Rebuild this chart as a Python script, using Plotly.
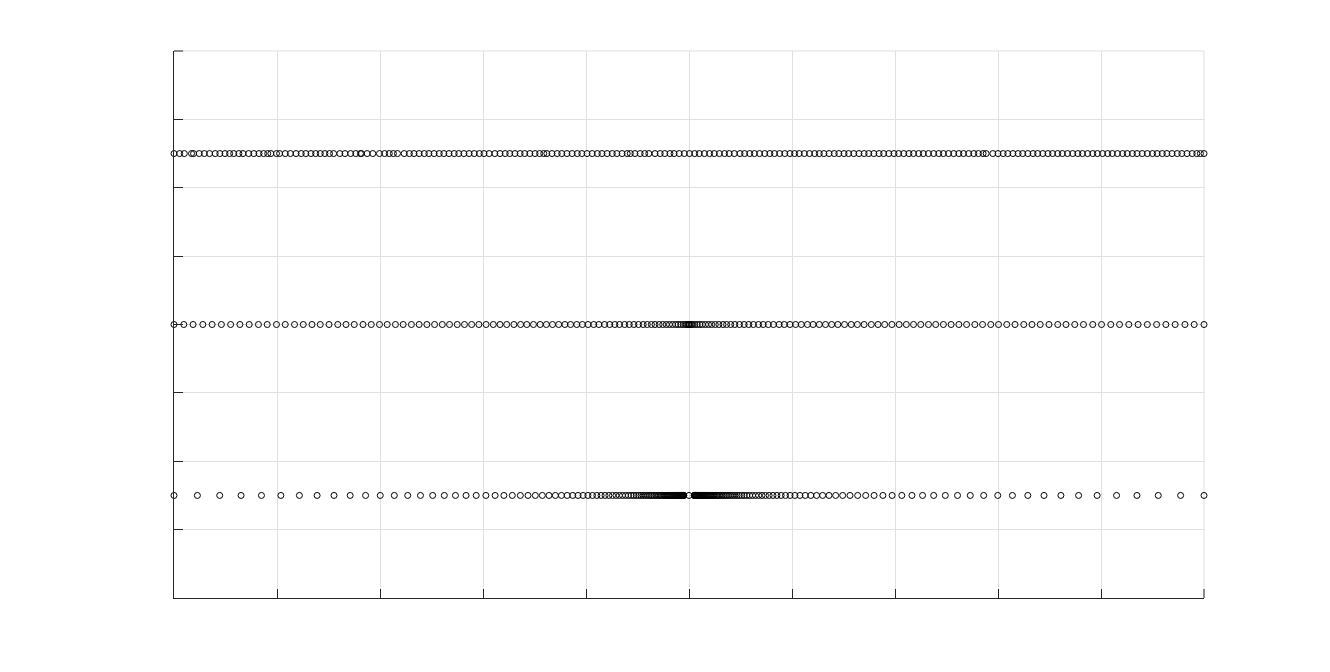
import plotly.graph_objects as go

# row positions on the y axis
row_levels = [3, 2, 1]

# grid / tick positions (no labels shown)
x_ticks = [-1.0, -0.8, -0.6, -0.4, -0.2, 0.0, 0.2, 0.4, 0.6, 0.8, 1.0]
y_ticks = [0.4, 0.8, 1.2, 1.6, 2.0, 2.4, 2.8, 3.2, 3.6]

# top row: scattered samples, roughly even over the interval
x_top = [
    -1.000, -0.989, -0.980, -0.966, -0.962, -0.951, -0.941, -0.931, -0.920, -0.911,
    -0.901, -0.892, -0.884, -0.874, -0.866, -0.855, -0.845, -0.835, -0.826, -0.818,
    -0.812, -0.801, -0.795, -0.784, -0.774, -0.763, -0.753, -0.744, -0.734, -0.725,
    -0.716, -0.707, -0.698, -0.690, -0.678, -0.668, -0.657, -0.647, -0.638, -0.636,
    -0.625, -0.614, -0.601, -0.591, -0.582, -0.574, -0.566, -0.553, -0.543, -0.534,
    -0.524, -0.514, -0.505, -0.495, -0.485, -0.476, -0.466, -0.456, -0.447, -0.437,
    -0.427, -0.417, -0.407, -0.398, -0.388, -0.377, -0.367, -0.357, -0.348, -0.338,
    -0.328, -0.319, -0.309, -0.299, -0.290, -0.282, -0.276, -0.266, -0.256, -0.247,
    -0.237, -0.227, -0.217, -0.208, -0.198, -0.188, -0.178, -0.169, -0.159, -0.149,
    -0.140, -0.130, -0.120, -0.114, -0.105, -0.095, -0.086, -0.078, -0.066, -0.056,
    -0.047, -0.037, -0.029, -0.019, -0.009, 0.001, 0.011, 0.020, 0.030, 0.040,
    0.049, 0.059, 0.069, 0.078, 0.088, 0.099, 0.108, 0.118, 0.127, 0.137,
    0.147, 0.157, 0.166, 0.176, 0.186, 0.196, 0.205, 0.214, 0.224, 0.234,
    0.244, 0.253, 0.262, 0.272, 0.282, 0.291, 0.301, 0.310, 0.320, 0.330,
    0.340, 0.349, 0.359, 0.369, 0.378, 0.388, 0.398, 0.407, 0.417, 0.427,
    0.436, 0.446, 0.455, 0.465, 0.475, 0.485, 0.494, 0.504, 0.514, 0.524,
    0.533, 0.543, 0.553, 0.562, 0.571, 0.577, 0.590, 0.600, 0.610, 0.619,
    0.629, 0.639, 0.648, 0.658, 0.668, 0.677, 0.687, 0.697, 0.706, 0.716,
    0.725, 0.735, 0.745, 0.755, 0.764, 0.774, 0.784, 0.793, 0.803, 0.813,
    0.822, 0.832, 0.842, 0.851, 0.861, 0.870, 0.880, 0.890, 0.900, 0.909,
    0.919, 0.928, 0.938, 0.948, 0.957, 0.967, 0.977, 0.986, 0.993, 1.000,
]

# middle row: gradually tighter toward the centre
x_mid = [
    -1.000, -0.981, -0.963, -0.944, -0.926, -0.908, -0.890, -0.872, -0.854, -0.836,
    -0.819, -0.801, -0.784, -0.766, -0.749, -0.732, -0.716, -0.699, -0.682, -0.666,
    -0.650, -0.633, -0.617, -0.601, -0.586, -0.570, -0.555, -0.539, -0.524, -0.509,
    -0.494, -0.479, -0.465, -0.450, -0.436, -0.422, -0.408, -0.394, -0.380, -0.367,
    -0.354, -0.340, -0.327, -0.315, -0.302, -0.289, -0.277, -0.265, -0.253, -0.241,
    -0.230, -0.218, -0.207, -0.196, -0.185, -0.175, -0.164, -0.154, -0.144, -0.135,
    -0.125, -0.116, -0.107, -0.098, -0.089, -0.081, -0.073, -0.066, -0.058, -0.051,
    -0.044, -0.038, -0.032, -0.026, -0.021, -0.016, -0.011, -0.007, -0.004, -0.001,
    0.000,
    0.001, 0.004, 0.007, 0.011, 0.016, 0.021, 0.026, 0.032, 0.038, 0.044,
    0.051, 0.058, 0.066, 0.073, 0.081, 0.089, 0.098, 0.107, 0.116, 0.125,
    0.135, 0.144, 0.154, 0.164, 0.175, 0.185, 0.196, 0.207, 0.218, 0.230,
    0.241, 0.253, 0.265, 0.277, 0.289, 0.302, 0.315, 0.327, 0.340, 0.354,
    0.367, 0.380, 0.394, 0.408, 0.422, 0.436, 0.450, 0.465, 0.479, 0.494,
    0.509, 0.524, 0.539, 0.555, 0.570, 0.586, 0.601, 0.617, 0.633, 0.650,
    0.666, 0.682, 0.699, 0.716, 0.732, 0.749, 0.766, 0.784, 0.801, 0.819,
    0.836, 0.854, 0.872, 0.890, 0.908, 0.926, 0.944, 0.963, 0.981, 1.000,
]

# bottom row: sparse at the ends, packed tightly around zero
x_bot = [
    -1.0000, -0.9546, -0.9112, -0.8698, -0.8302, -0.7925, -0.7565, -0.7221, -0.6893, -0.6579,
    -0.6280, -0.5995, -0.5722, -0.5462, -0.5214, -0.4977, -0.4751, -0.4535, -0.4329, -0.4132,
    -0.3944, -0.3765, -0.3594, -0.3431, -0.3275, -0.3126, -0.2984, -0.2848, -0.2719, -0.2595,
    -0.2477, -0.2365, -0.2257, -0.2154, -0.2057, -0.1963, -0.1874, -0.1789, -0.1707, -0.1630,
    -0.1556, -0.1485, -0.1418, -0.1353, -0.1292, -0.1233, -0.1177, -0.1123, -0.1072, -0.1024,
    -0.0977, -0.0933, -0.0890, -0.0850, -0.0811, -0.0774, -0.0739, -0.0706, -0.0673, -0.0643,
    -0.0614, -0.0586, -0.0559, -0.0534, -0.0509, -0.0486, -0.0464, -0.0443, -0.0423, -0.0404,
    -0.0385, -0.0368, -0.0351, -0.0335, -0.0320, -0.0305, -0.0292, -0.0278, -0.0266, -0.0254,
    -0.0242, -0.0231, -0.0221, -0.0211, -0.0201, -0.0192, -0.0183, -0.0175, -0.0167, -0.0159,
    -0.0152, -0.0145, -0.0139, -0.0132, -0.0126, -0.0121, -0.0115, -0.0110, -0.0105, -0.0100,
    0.0000,
    0.0100, 0.0105, 0.0110, 0.0115, 0.0121, 0.0126, 0.0132, 0.0139, 0.0145, 0.0152,
    0.0159, 0.0167, 0.0175, 0.0183, 0.0192, 0.0201, 0.0211, 0.0221, 0.0231, 0.0242,
    0.0254, 0.0266, 0.0278, 0.0292, 0.0305, 0.0320, 0.0335, 0.0351, 0.0368, 0.0385,
    0.0404, 0.0423, 0.0443, 0.0464, 0.0486, 0.0509, 0.0534, 0.0559, 0.0586, 0.0614,
    0.0643, 0.0673, 0.0706, 0.0739, 0.0774, 0.0811, 0.0850, 0.0890, 0.0933, 0.0977,
    0.1024, 0.1072, 0.1123, 0.1177, 0.1233, 0.1292, 0.1353, 0.1418, 0.1485, 0.1556,
    0.1630, 0.1707, 0.1789, 0.1874, 0.1963, 0.2057, 0.2154, 0.2257, 0.2365, 0.2477,
    0.2595, 0.2719, 0.2848, 0.2984, 0.3126, 0.3275, 0.3431, 0.3594, 0.3765, 0.3944,
    0.4132, 0.4329, 0.4535, 0.4751, 0.4977, 0.5214, 0.5462, 0.5722, 0.5995, 0.6280,
    0.6579, 0.6893, 0.7221, 0.7565, 0.7925, 0.8302, 0.8698, 0.9112, 0.9546, 1.0000,
]

rows = [x_top, x_mid, x_bot]

fig = go.Figure()
for xs, level in zip(rows, row_levels):
    fig.add_trace(go.Scatter(
        x=xs, y=[level] * len(xs), mode="markers", cliponaxis=False,
        marker=dict(symbol="circle-open", size=6, color="black", line=dict(width=1)),
        showlegend=False, hoverinfo="skip",
    ))

axis_style = dict(
    showline=True, linecolor="#262626", linewidth=1, mirror=False,
    ticks="inside", ticklen=9, tickcolor="#262626", tickwidth=1,
    showticklabels=False, showgrid=True, gridcolor="#e0e0e0", gridwidth=1,
    zeroline=False, tickmode="array",
)

fig.update_xaxes(range=[-1, 1], tickvals=x_ticks, **axis_style)
fig.update_yaxes(range=[0.4, 3.6], tickvals=y_ticks, **axis_style)

# plotly drops the grid line / tick sitting on the far edges, so draw those by hand
fig.add_shape(type="line", xref="paper", yref="paper", x0=0, x1=1, y0=1, y1=1,
              line=dict(color="#e0e0e0", width=1), layer="below")
fig.add_shape(type="line", xref="paper", yref="paper", x0=1, x1=1, y0=0, y1=1,
              line=dict(color="#e0e0e0", width=1), layer="below")
fig.add_shape(type="line", xref="paper", yref="paper", x0=0, x1=0.0088, y0=1, y1=1,
              line=dict(color="#262626", width=1))
fig.add_shape(type="line", xref="paper", yref="paper", x0=1, x1=1, y0=0, y1=0.0165,
              line=dict(color="#262626", width=1))

# page body adds ~7px, so margins are trimmed to land the plot box at 173..1203 x 50..597
fig.update_layout(
    width=1330, height=672,
    margin=dict(l=166, r=134, t=43, b=82),
    paper_bgcolor="white", plot_bgcolor="white",
)

fig.write_html("out.html")
